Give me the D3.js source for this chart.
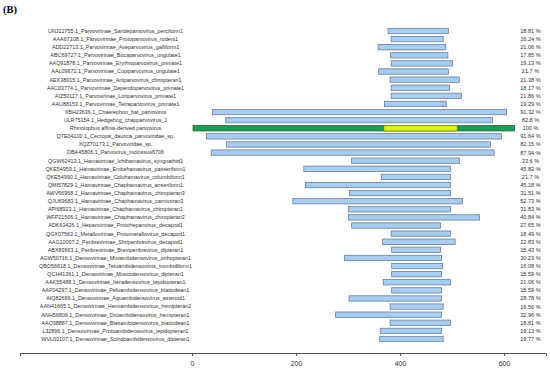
<!DOCTYPE html>
<html lang="en">
<head>
  <meta charset="UTF-8">
  <title>Alignment coverage</title>
  <script src="https://d3js.org/d3.v7.min.js"></script>
  <style>
    body { margin: 0; background: #fff; }
    text { font-family: "Liberation Sans", Arial, sans-serif; }
  </style>
</head>
<body>
  <svg id="chart" width="550" height="373"></svg>

  <script>
    const names = [
      "UNJ12755.1_Parvovirinae_Sandeparvovirus_perciform1",
      "AAA67108.1_Parvovirinae_Protoparvovirus_rodent1",
      "ADD22713.1_Parvovirinae_Aveparvovirus_galliform1",
      "ABC69727.1_Parvovirinae_Bocaparvovirus_ungulate1",
      "AAQ91878.1_Parvovirinae_Erythroparvovirus_primate1",
      "AAL09671.1_Parvovirinae_Copiparvovirus_ungulate1",
      "AEX38015.1_Parvovirinae_Artiparvovirus_chiropteran1",
      "AAC03774.1_Parvovirinae_Dependoparvovirus_primate1",
      "AIZ50117.1_Parvovirinae_Loriparvovirus_primate1",
      "AAU88153.1_Parvovirinae_Tetraparvovirus_primate1",
      "XBH23636.1_Chaerephon_bat_parvovirus",
      "ULR75154.1_Hedgehog_chapparvovirus_1",
      "Rhinolophus affinis-derived parvovirus",
      "QTE04100.1_Cecropis_daurica_parvoviridae_sp.",
      "XQZ70173.1_Parvoviridae_sp.",
      "DBA45806.1_Parvovirus_molossus6706",
      "QGW62413.1_Hamavirinae_Ichthamavirus_syngnathid1",
      "QKE54959.1_Hamavirinae_Embehamavirus_passeriform1",
      "QKE54990.1_Hamavirinae_Coluhamavirus_columbiform1",
      "QMI57829.1_Hamavirinae_Chaphamavirus_anseriform1",
      "AWV66968.1_Hamavirinae_Chaphamavirus_chiropteran3",
      "QJU69683.1_Hamavirinae_Chaphamavirus_carnivoran3",
      "API68923.1_Hamavirinae_Chaphamavirus_chiropteran1",
      "WFP21506.1_Hamavirinae_Chaphamavirus_chiropteran2",
      "ADK63426.1_Hepanvirinae_Protohepanvirus_decapod1",
      "QGX07563.1_Metallovirinae_Protometallovirus_decapod1",
      "AAG10007.2_Penbrevirinae_Shripenbrevirus_decapod1",
      "ABX83663.1_Penbrevirinae_Brevipenbrevirus_dipteran1",
      "AGW50716.1_Densovirinae_Miniambidensovirus_orthopteran1",
      "QBO56618.1_Densovirinae_Tetuambidensovirus_trombidiform1",
      "QCH41361.1_Densovirinae_Muscodensovirus_dipteran1",
      "AAK55488.1_Densovirinae_Iteradensovirus_lepidopteran1",
      "AAF04297.1_Densovirinae_Pefuambidensovirus_blattodean1",
      "AIQ82699.1_Densovirinae_Aquambidensovirus_asteroid1",
      "AAN41665.1_Densovirinae_Hemiambidensovirus_hemipteran2",
      "ANH56809.1_Densovirinae_Diciambidensovirus_hemipteran1",
      "AAO38887.1_Densovirinae_Blattambidensovirus_blattodean1",
      "L32896.1_Densovirinae_Protoambidensovirus_lepidopteran1",
      "WVL03107.1_Densovirinae_Scindoambidensovirus_dipteran1"
    ];

    // aligned region on the query (aa positions)
    const starts = [377, 383, 358, 382, 383, 359, 381, 383, 383, 370,
                    39, 65, 2, 28, 66, 37,
                    307, 215, 364, 218, 303, 194, 301, 301,
                    307, 383, 366, 384,
                    293, 384, 384, 368, 384, 302, 381, 276, 381, 362, 361];
    const ends = [493, 483, 488, 492, 501, 493, 514, 495, 518, 489,
                  605, 578, 620, 595, 574, 581,
                  514, 497, 497, 497, 497, 520, 497, 553,
                  478, 497, 506, 478,
                  480, 482, 480, 497, 480, 480, 483, 480, 497, 480, 483];
    const identity = ["18.81", "16.24", "21.06", "17.85", "19.13", "21.7", "21.38", "18.17", "21.86", "19.29",
                      "91.32", "82.8", "100", "91.64", "82.15", "87.94",
                      "33.6", "45.82", "21.7", "45.18", "31.51", "52.73", "31.83", "40.84",
                      "27.65", "18.49", "22.83", "15.43",
                      "30.23", "16.08", "15.59", "21.06", "15.59", "28.78", "16.56", "32.96", "18.81", "19.13", "19.77"];

    const queryName = "Rhinolophus affinis-derived parvovirus";
    const highlight = [369, 510];
    const xTicks = [0, 200, 400, 600];

    const svg = d3.select("#chart");

    const rows = names.map((n, i) => ({ name: n, start: starts[i], end: ends[i], pid: identity[i] }));

    const x = d3.scaleLinear().domain([-330.8, 680.8]).range([20, 546]);
    const y = d3.scaleBand().domain(names).range([26.95, 343.05]).paddingInner(0.34).paddingOuter(0.17);

    svg.append("text")
      .attr("x", 3)
      .attr("y", 13)
      .style("font-family", "'Liberation Serif', 'Times New Roman', serif")
      .style("font-weight", "bold")
      .style("font-size", "10.5px")
      .text("(B)");

    // row labels
    svg.append("g").selectAll("text")
      .data(rows)
      .join("text")
      .attr("x", 115.5)
      .attr("y", d => y(d.name) + y.bandwidth() / 2)
      .attr("dy", "0.35em")
      .attr("text-anchor", "middle")
      .attr("fill", "#333")
      .style("font-size", "5.4px")
      .text(d => d.name);

    // bars
    svg.append("g").selectAll("rect")
      .data(rows)
      .join("rect")
      .attr("x", d => x(d.start))
      .attr("y", d => y(d.name))
      .attr("width", d => x(d.end) - x(d.start))
      .attr("height", y.bandwidth())
      .attr("fill", d => d.name === queryName ? "#12a055" : "#a6cdf4")
      .attr("stroke", d => d.name === queryName ? "#2b5e3c" : "#6f7f92")
      .attr("stroke-width", 0.8);

    svg.append("rect")
      .attr("x", x(highlight[0]))
      .attr("y", y(queryName))
      .attr("width", x(highlight[1]) - x(highlight[0]))
      .attr("height", y.bandwidth())
      .attr("fill", "#e2f500")
      .attr("stroke", "#6b7a10")
      .attr("stroke-width", 0.6);

    // identity percentages
    svg.append("g").selectAll("text")
      .data(rows)
      .join("text")
      .attr("x", 530.5)
      .attr("y", d => y(d.name) + y.bandwidth() / 2)
      .attr("dy", "0.35em")
      .attr("text-anchor", "middle")
      .attr("fill", "#333")
      .style("font-size", "5.6px")
      .text(d => d.pid + " %");

    const axis = svg.append("g")
      .attr("transform", "translate(0,353)")
      .call(d3.axisBottom(x).tickValues(xTicks).tickSizeOuter(0).tickSize(3).tickPadding(5));
    axis.select(".domain").attr("stroke", "#555");
    axis.selectAll(".tick line").attr("stroke", "#555");
    axis.selectAll(".tick text")
      .attr("fill", "#333")
      .style("font-family", "'Liberation Sans', Arial, sans-serif")
      .style("font-size", "7px");
  </script>
</body>
</html>
